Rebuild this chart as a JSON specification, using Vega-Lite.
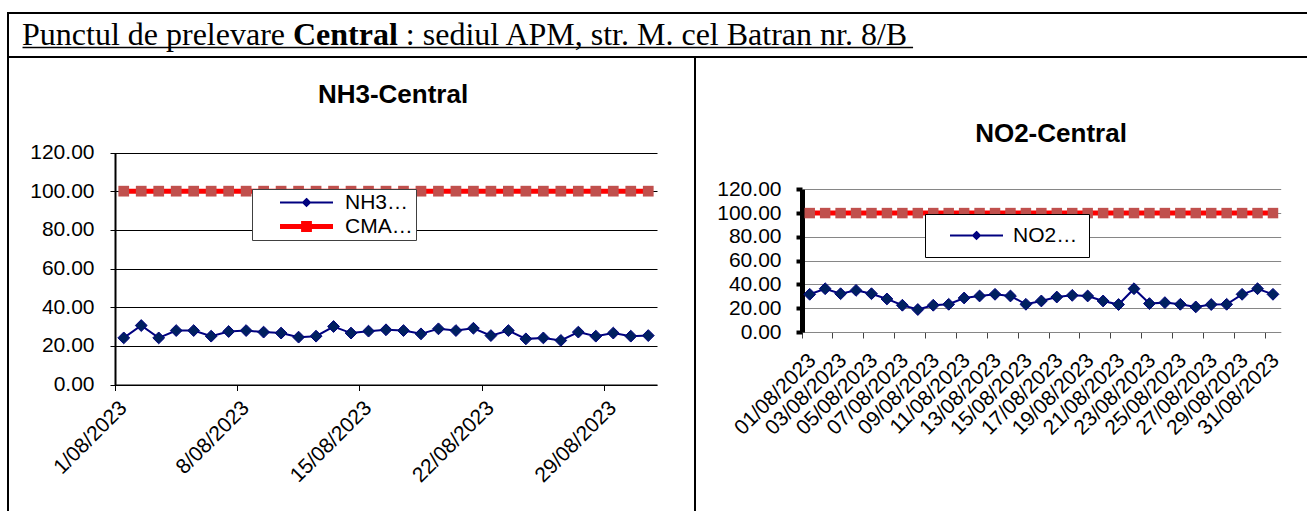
{
  "$schema": "https://vega.github.io/schema/vega-lite/v6.json",
  "background": "white",
  "padding": {"left": 7, "top": 12, "right": 0, "bottom": 0},
  "bounds": "flush",
  "spacing": 0,
  "datasets": {
    "nh3": [
      {"day": "01/08/2023", "value": 24.1}, {"day": "02/08/2023", "value": 30.5}, {"day": "03/08/2023", "value": 24.1},
      {"day": "04/08/2023", "value": 27.9}, {"day": "05/08/2023", "value": 27.9}, {"day": "06/08/2023", "value": 25.0},
      {"day": "07/08/2023", "value": 27.4}, {"day": "08/08/2023", "value": 27.9}, {"day": "09/08/2023", "value": 27.1},
      {"day": "10/08/2023", "value": 26.6}, {"day": "11/08/2023", "value": 24.5}, {"day": "12/08/2023", "value": 25.0},
      {"day": "13/08/2023", "value": 30.0}, {"day": "14/08/2023", "value": 26.6}, {"day": "15/08/2023", "value": 27.6},
      {"day": "16/08/2023", "value": 28.3}, {"day": "17/08/2023", "value": 27.9}, {"day": "18/08/2023", "value": 26.2},
      {"day": "19/08/2023", "value": 28.8}, {"day": "20/08/2023", "value": 27.9}, {"day": "21/08/2023", "value": 29.1},
      {"day": "22/08/2023", "value": 25.3}, {"day": "23/08/2023", "value": 27.9}, {"day": "24/08/2023", "value": 23.6},
      {"day": "25/08/2023", "value": 24.1}, {"day": "26/08/2023", "value": 22.8}, {"day": "27/08/2023", "value": 27.1},
      {"day": "28/08/2023", "value": 25.0}, {"day": "29/08/2023", "value": 26.6}, {"day": "30/08/2023", "value": 25.0},
      {"day": "31/08/2023", "value": 25.3}
    ],
    "no2": [
      {"day": "01/08/2023", "value": 31.7}, {"day": "02/08/2023", "value": 36.4}, {"day": "03/08/2023", "value": 32.2},
      {"day": "04/08/2023", "value": 35.0}, {"day": "05/08/2023", "value": 32.2}, {"day": "06/08/2023", "value": 27.8},
      {"day": "07/08/2023", "value": 22.5}, {"day": "08/08/2023", "value": 18.9}, {"day": "09/08/2023", "value": 22.5},
      {"day": "10/08/2023", "value": 23.3}, {"day": "11/08/2023", "value": 28.6}, {"day": "12/08/2023", "value": 30.3},
      {"day": "13/08/2023", "value": 31.7}, {"day": "14/08/2023", "value": 30.3}, {"day": "15/08/2023", "value": 23.3},
      {"day": "16/08/2023", "value": 26.1}, {"day": "17/08/2023", "value": 29.4}, {"day": "18/08/2023", "value": 30.8},
      {"day": "19/08/2023", "value": 30.3}, {"day": "20/08/2023", "value": 26.1}, {"day": "21/08/2023", "value": 23.1},
      {"day": "22/08/2023", "value": 36.4}, {"day": "23/08/2023", "value": 23.9}, {"day": "24/08/2023", "value": 24.7},
      {"day": "25/08/2023", "value": 23.3}, {"day": "26/08/2023", "value": 21.1}, {"day": "27/08/2023", "value": 23.1},
      {"day": "28/08/2023", "value": 23.3}, {"day": "29/08/2023", "value": 31.7}, {"day": "30/08/2023", "value": 36.4},
      {"day": "31/08/2023", "value": 31.7}
    ],
    "cma": [
      {"day": "01/08/2023", "value": 100}, {"day": "02/08/2023", "value": 100}, {"day": "03/08/2023", "value": 100},
      {"day": "04/08/2023", "value": 100}, {"day": "05/08/2023", "value": 100}, {"day": "06/08/2023", "value": 100},
      {"day": "07/08/2023", "value": 100}, {"day": "08/08/2023", "value": 100}, {"day": "09/08/2023", "value": 100},
      {"day": "10/08/2023", "value": 100}, {"day": "11/08/2023", "value": 100}, {"day": "12/08/2023", "value": 100},
      {"day": "13/08/2023", "value": 100}, {"day": "14/08/2023", "value": 100}, {"day": "15/08/2023", "value": 100},
      {"day": "16/08/2023", "value": 100}, {"day": "17/08/2023", "value": 100}, {"day": "18/08/2023", "value": 100},
      {"day": "19/08/2023", "value": 100}, {"day": "20/08/2023", "value": 100}, {"day": "21/08/2023", "value": 100},
      {"day": "22/08/2023", "value": 100}, {"day": "23/08/2023", "value": 100}, {"day": "24/08/2023", "value": 100},
      {"day": "25/08/2023", "value": 100}, {"day": "26/08/2023", "value": 100}, {"day": "27/08/2023", "value": 100},
      {"day": "28/08/2023", "value": 100}, {"day": "29/08/2023", "value": 100}, {"day": "30/08/2023", "value": 100},
      {"day": "31/08/2023", "value": 100}
    ]
  },
  "config": {
    "view": {"stroke": "black", "strokeWidth": 2},
    "font": "Liberation Sans",
    "axis": {"labelFont": "Liberation Sans", "labelFontSize": 21, "labelColor": "black", "labelOverlap": false, "labelBound": false, "labelFlush": false}
  },
  "vconcat": [
    {
      "width": 1310,
      "height": 44,
      "data": {"values": [
        {"seg": "s1", "text": "Punctul de prelevare"},
        {"seg": "s2", "text": "Central"},
        {"seg": "s3", "text": ": sediul APM, str. M. cel Batran nr. 8/B"}
      ]},
      "encoding": {
        "x": {
          "field": "seg", "type": "nominal",
          "scale": {"type": "point", "domain": ["a0", "a1", "a2", "a3", "s1", "s2", "s3", "a7", "a8", "a9", "a10", "a11", "a12", "a13"], "range": [14, 904.56], "padding": 0.8685, "align": 0.2027},
          "axis": {"orient": "bottom", "offset": -10, "title": null, "labels": false, "ticks": false, "grid": false, "domain": true, "domainColor": "black", "domainWidth": 1.6}
        },
        "text": {"field": "text", "type": "nominal"}
      },
      "layer": [
        {"transform": [{"filter": "datum.seg === 's1'"}], "mark": {"type": "text", "align": "right", "baseline": "middle", "font": "Liberation Serif", "fontSize": 32, "color": "black"}},
        {"transform": [{"filter": "datum.seg === 's2'"}], "mark": {"type": "text", "align": "center", "baseline": "middle", "font": "Liberation Serif", "fontSize": 32, "fontWeight": "bold", "color": "black"}},
        {"transform": [{"filter": "datum.seg === 's3'"}], "mark": {"type": "text", "align": "left", "baseline": "middle", "font": "Liberation Serif", "fontSize": 32, "color": "black"}}
      ]
    },
    {
      "spacing": 0,
      "bounds": "flush",
      "resolve": {"scale": {"color": "independent"}, "legend": {"color": "independent"}},
      "hconcat": [
        {
          "width": 687,
          "height": 470,
          "title": {"text": "NH3-Central", "font": "Liberation Sans", "fontSize": 26, "fontWeight": "bold", "color": "black", "anchor": "middle", "frame": "group", "baseline": "alphabetic", "offset": -72, "dx": 41.5},
          "encoding": {
            "x": {
              "field": "day", "type": "ordinal", "bandPosition": 0.5,
              "scale": {"type": "band", "range": [107, 649], "paddingInner": 0, "paddingOuter": 0},
              "axis": {
                "orient": "bottom", "offset": -142.5, "title": null, "grid": false, "bandPosition": 0,
                "values": ["01/08/2023", "08/08/2023", "15/08/2023", "22/08/2023", "29/08/2023"],
                "labelExpr": "slice(datum.label, 0, 1) === '0' ? slice(datum.label, 1) : datum.label",
                "domainColor": "black", "domainWidth": 1, "tickColor": "black", "tickSize": 6, "tickWidth": 1,
                "labelAngle": -45, "labelAlign": "right", "labelBaseline": "middle", "labelOffset": 0, "labelPadding": 14
              }
            },
            "y": {
              "field": "value", "type": "quantitative",
              "scale": {"domain": [0, 120], "range": [327.5, 95.5], "nice": false, "zero": false},
              "axis": {
                "orient": "left", "offset": -107, "title": null, "values": [0, 20, 40, 60, 80, 100, 120], "format": ".2f",
                "grid": true, "gridColor": "black", "gridWidth": 1, "gridOpacity": 1,
                "domainColor": "black", "domainWidth": 2, "tickColor": "black", "tickSize": 5, "tickWidth": 1, "labelPadding": 16
              }
            }
          },
          "layer": [
            {"data": {"name": "cma"}, "mark": {"type": "line", "color": "#FF0000", "strokeWidth": 5}},
            {"data": {"name": "cma"}, "mark": {"type": "point", "shape": "square", "filled": true, "color": "#C0504D", "size": 115, "opacity": 1, "strokeWidth": 0}},
            {
              "data": {"name": "nh3"},
              "mark": {"type": "line", "strokeWidth": 2},
              "encoding": {
                "color": {
                  "datum": "NH3-Central", "type": "nominal",
                  "scale": {"domain": ["NH3-Central", "CMA"], "range": ["#000080", "#FF0000"]},
                  "legend": {
                    "orient": "none", "legendX": 244, "legendY": 132, "title": null,
                    "fillColor": "white", "strokeColor": "#404040", "padding": 3,
                    "symbolType": "M-1,0H1M0,-0.13L0.13,0L0,0.13L-0.13,0Z", "symbolSize": 2809,
                    "symbolOffset": 24, "labelOffset": 11, "rowPadding": 2, "clipHeight": 21,
                    "labelFont": "Liberation Sans", "labelFontSize": 21, "labelColor": "black", "labelLimit": 300,
                    "labelExpr": "slice(datum.label, 0, 3) + '…'",
                    "encode": {"symbols": {"update": {
                      "shape": {"signal": "(datum.value === 'CMA' ? 'M-1,0H1M-0.11,-0.11H0.11V0.11H-0.11Z' : 'M-1,0H1M0,-0.13L0.13,0L0,0.13L-0.13,0Z')"},
                      "fill": {"signal": "(datum.value === 'CMA' ? '#C0504D' : '#002060')"},
                      "stroke": {"signal": "(datum.value === 'CMA' ? '#FF0000' : '#000080')"},
                      "strokeWidth": {"signal": "(datum.value === 'CMA' ? 5 : 2)"},
                      "opacity": {"value": 1}
                    }}}
                  }
                }
              }
            },
            {"data": {"name": "nh3"}, "mark": {"type": "point", "shape": "diamond", "filled": true, "fill": "#002060", "stroke": "#000080", "strokeWidth": 1, "size": 140, "opacity": 1}}
          ]
        },
        {
          "width": 620,
          "height": 470,
          "view": {"stroke": null},
          "title": {"text": "NO2-Central", "font": "Liberation Sans", "fontSize": 26, "fontWeight": "bold", "color": "black", "anchor": "middle", "frame": "group", "baseline": "alphabetic", "offset": -110.7, "dx": 46},
          "encoding": {
            "x": {
              "field": "day", "type": "ordinal", "bandPosition": 0.5,
              "scale": {"type": "band", "range": [107, 585.7], "paddingInner": 0, "paddingOuter": 0},
              "axis": {
                "orient": "bottom", "offset": -195, "title": null, "grid": false, "bandPosition": 0,
                "values": ["01/08/2023", "03/08/2023", "05/08/2023", "07/08/2023", "09/08/2023", "11/08/2023", "13/08/2023", "15/08/2023", "17/08/2023", "19/08/2023", "21/08/2023", "23/08/2023", "25/08/2023", "27/08/2023", "29/08/2023", "31/08/2023"],
                "domainColor": "#868686", "domainWidth": 1, "tickColor": "#444444", "tickSize": 6, "tickWidth": 1,
                "labelAngle": -45, "labelAlign": "right", "labelBaseline": "middle", "labelOffset": 3, "labelPadding": 19
              }
            },
            "y": {
              "field": "value", "type": "quantitative",
              "scale": {"domain": [0, 120], "range": [275, 132.3], "nice": false, "zero": false},
              "axis": {
                "orient": "left", "offset": -107, "title": null, "values": [0, 20, 40, 60, 80, 100, 120], "format": ".2f",
                "grid": true, "gridColor": "#868686", "gridWidth": 1, "gridOpacity": 1,
                "domainColor": "black", "domainWidth": 5, "tickColor": "black", "tickSize": 6, "tickWidth": 4, "labelPadding": 15
              }
            }
          },
          "layer": [
            {"data": {"name": "cma"}, "mark": {"type": "line", "color": "#FF0000", "strokeWidth": 5}},
            {"data": {"name": "cma"}, "mark": {"type": "point", "shape": "square", "filled": true, "color": "#C0504D", "size": 110, "opacity": 1, "strokeWidth": 0}},
            {
              "data": {"name": "no2"},
              "mark": {"type": "line", "strokeWidth": 2},
              "encoding": {
                "color": {
                  "datum": "NO2-Central", "type": "nominal",
                  "scale": {"domain": ["NO2-Central"], "range": ["#000080"]},
                  "legend": {
                    "orient": "none", "legendX": 230, "legendY": 157, "title": null,
                    "fillColor": "white", "strokeColor": "black", "padding": 11,
                    "symbolType": "M-1,0H1M0,-0.13L0.13,0L0,0.13L-0.13,0Z", "symbolSize": 2809,
                    "symbolOffset": 13, "labelOffset": 9, "clipHeight": 21,
                    "labelFont": "Liberation Sans", "labelFontSize": 21, "labelColor": "black", "labelLimit": 300,
                    "labelExpr": "slice(datum.label, 0, 3) + '…'",
                    "encode": {"symbols": {"update": {
                      "fill": {"value": "#002060"},
                      "stroke": {"value": "#000080"},
                      "strokeWidth": {"value": 2},
                      "opacity": {"value": 1}
                    }}}
                  }
                }
              }
            },
            {"data": {"name": "no2"}, "mark": {"type": "point", "shape": "diamond", "filled": true, "fill": "#002060", "stroke": "#000080", "strokeWidth": 1, "size": 140, "opacity": 1}}
          ]
        }
      ]
    }
  ]
}
